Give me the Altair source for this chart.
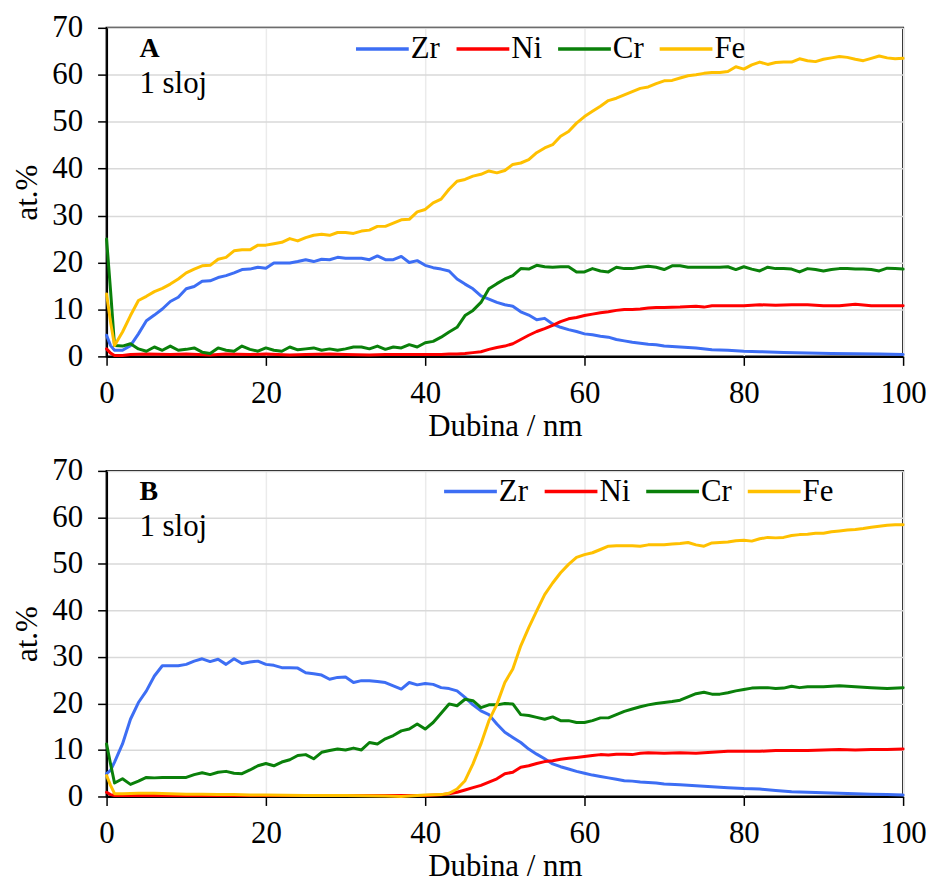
import altair as alt
import pandas as pd

FONT = "Liberation Serif, Times New Roman, Times, serif"
ELEMENTS = ["Zr", "Ni", "Cr", "Fe"]
COLORS = ["#3D6EF4", "#FF0000", "#0A800A", "#FFC000"]

# ---------------- Panel A ----------------
a_x_dense = [0, 0.5] + list(range(1, 101))

a_fe = [13.3, 7.3, 2.3, 5.2, 8.7, 11.9, 12.8, 13.8, 14.5, 15.4, 16.5, 17.8, 18.6, 19.3, 19.4,
        20.7, 21.1, 22.5, 22.7, 22.7, 23.7, 23.7, 24.0, 24.3, 25.1, 24.6, 25.3, 25.8, 26.0,
        25.8, 26.4, 26.4, 26.2, 26.7, 26.9, 27.7, 27.7, 28.4, 29.1, 29.2, 30.8, 31.3, 32.7,
        33.5, 35.6, 37.3, 37.7, 38.4, 38.8, 39.5, 39.1, 39.6, 40.9, 41.2, 41.9, 43.4, 44.4,
        45.1, 46.9, 47.9, 49.7, 51.1, 52.2, 53.3, 54.5, 55.0, 55.7, 56.4, 57.1, 57.4, 58.1,
        58.7, 58.8, 59.3, 59.8, 60.0, 60.3, 60.5, 60.5, 60.7, 61.7, 61.2, 62.1, 62.7, 62.2,
        62.6, 62.7, 62.7, 63.4, 63.0, 62.8, 63.3, 63.6, 63.9, 63.7, 63.3, 63.0, 63.5, 64.0,
        63.6, 63.4, 63.5]

a_cr = [25.0, 14.0, 2.3, 2.2, 2.7, 1.6, 1.1, 2.0, 1.3, 2.2, 1.3, 1.5, 1.8, 0.9, 0.6, 1.8,
        1.3, 1.1, 2.2, 1.5, 1.1, 1.8, 1.3, 1.1, 2.0, 1.4, 1.6, 1.8, 1.3, 1.6, 1.3, 1.6, 2.0,
        2.0, 1.6, 2.2, 1.5, 2.0, 1.8, 2.5, 2.0, 2.9, 3.2, 4.1, 5.2, 6.2, 8.7, 9.8, 11.5, 14.4,
        15.5, 16.5, 17.2, 18.7, 18.6, 19.4, 19.1, 19.0, 19.1, 19.1, 18.0, 18.0, 18.7, 18.2,
        18.0, 19.0, 18.7, 18.7, 19.0, 19.2, 19.0, 18.5, 19.3, 19.3, 19.0, 19.0, 19.0, 19.0,
        19.0, 19.1, 18.5, 19.1, 18.6, 18.2, 19.0, 18.7, 18.7, 18.6, 18.0, 18.7, 18.5, 18.2,
        18.5, 18.7, 18.7, 18.6, 18.6, 18.5, 18.2, 18.8, 18.7, 18.6]

a_zr_x = [0, 0.5] + list(range(1, 71)) + [72, 74, 76, 78, 80, 82, 85, 88, 91, 94, 97, 100]
a_zr = [4.5, 2.3, 1.3, 1.3, 2.3, 4.8, 7.6, 8.8, 10.1, 11.7, 12.6, 14.4, 14.9, 16.0, 16.1,
        16.8, 17.2, 17.8, 18.5, 18.6, 19.0, 18.8, 19.9, 19.9, 19.9, 20.2, 20.6, 20.2, 20.7,
        20.6, 21.1, 20.9, 20.9, 20.9, 20.6, 21.4, 20.6, 20.6, 21.3, 20.0, 20.4, 19.4, 18.9,
        18.6, 18.2, 16.5, 15.4, 14.4, 12.9, 12.2, 11.5, 11.0, 10.7, 9.5, 8.8, 7.8, 8.1, 6.9,
        6.2, 5.7, 5.3, 4.8, 4.6, 4.3, 4.1, 3.6, 3.3, 3.0, 2.8, 2.6, 2.5, 2.2,
        2.0, 1.8, 1.4, 1.3, 1.1, 1.0, 0.85, 0.7, 0.64, 0.57, 0.5, 0.4]

a_ni_x = [0, 0.5, 1, 2, 3, 5, 8, 10, 13, 15, 18, 20, 23, 25, 28, 30, 33, 35, 38, 40] + \
    list(range(41, 71)) + [72, 74, 75, 76, 78, 80, 82, 84, 86, 88, 90, 92, 94, 96, 98, 100]
a_ni = [1.6, 0.7, 0.2, 0.2, 0.4, 0.5, 0.4, 0.5, 0.3, 0.5, 0.4, 0.5, 0.3, 0.4, 0.5, 0.4, 0.3,
        0.4, 0.4, 0.4, 0.4, 0.4, 0.5, 0.5, 0.6, 0.8, 1.0, 1.5, 1.9, 2.2, 2.7, 3.6, 4.5, 5.3,
        5.9, 6.6, 7.4, 8.0, 8.3, 8.7, 9.0, 9.3, 9.5, 9.8, 10.0, 10.0, 10.1, 10.3, 10.4, 10.4,
        10.5, 10.7, 10.5, 10.8, 10.8, 10.8, 11.0, 10.9, 11.0, 11.0, 10.8, 10.8, 11.1, 10.8,
        10.8, 10.8]

# ---------------- Panel B ----------------
b_zr_x = [0, 0.5] + list(range(1, 71)) + list(range(72, 101, 2))
b_zr = [4.9, 5.6, 7.4, 11.3, 16.6, 20.2, 22.7, 25.9, 28.1, 28.1, 28.1, 28.4, 29.1, 29.6,
        29.0, 29.5, 28.4, 29.6, 28.6, 28.9, 29.1, 28.4, 28.2, 27.7, 27.7, 27.6, 26.6, 26.4,
        26.1, 25.2, 25.6, 25.7, 24.5, 24.9, 24.9, 24.7, 24.5, 23.8, 23.1, 24.5, 24.0, 24.3,
        24.1, 23.4, 23.2, 22.7, 21.3, 19.7, 18.4, 17.6, 15.6, 13.8, 12.7, 11.6, 10.2, 9.1,
        8.1, 7.0, 6.4, 5.9, 5.4, 5.0, 4.6, 4.3, 4.0, 3.7, 3.4, 3.3, 3.1, 3.0, 2.9, 2.7,
        2.5, 2.3, 2.1, 1.9, 1.7, 1.6, 1.3, 1.0, 0.9, 0.8, 0.7, 0.6, 0.5, 0.4, 0.3]

b_cr_x = [0, 0.5] + list(range(1, 89)) + [90, 92, 94, 96, 98, 100]
b_cr = [11.3, 7.0, 2.9, 3.8, 2.6, 3.3, 4.1, 4.0, 4.1, 4.1, 4.1, 4.1, 4.7, 5.1, 4.7, 5.2,
        5.4, 5.0, 4.9, 5.7, 6.6, 7.1, 6.6, 7.4, 7.9, 8.8, 9.0, 8.1, 9.5, 9.9, 10.2, 10.0,
        10.4, 10.0, 11.6, 11.3, 12.4, 13.1, 14.1, 14.5, 15.6, 14.5, 15.9, 17.9, 19.9, 19.5,
        20.9, 20.6, 19.1, 19.7, 19.7, 20.0, 19.9, 17.6, 17.4, 17.0, 16.6, 17.1, 16.3, 16.3,
        15.9, 15.9, 16.3, 16.9, 16.9, 17.6, 18.3, 18.8, 19.3, 19.7, 20.0, 20.2, 20.4, 20.7,
        21.4, 22.1, 22.4, 22.0, 22.0, 22.3, 22.7, 23.0, 23.3, 23.4, 23.4, 23.2, 23.3, 23.7,
        23.4, 23.6, 23.6, 23.8, 23.6, 23.4, 23.2, 23.4]

b_ni_x = [0, 0.5, 1, 5, 10, 15, 20, 25, 30, 35, 40, 42] + list(range(43, 69)) + \
    list(range(70, 101, 2))
b_ni = [0.9, 0.4, 0.2, 0.2, 0.2, 0.2, 0.2, 0.2, 0.2, 0.2, 0.2, 0.35, 0.6, 0.9, 1.4, 1.9,
        2.4, 3.1, 3.8, 4.9, 5.2, 6.3, 6.6, 7.1, 7.5, 7.7, 8.0, 8.2, 8.4, 8.6, 8.8, 9.0, 8.9,
        9.1, 9.1, 9.0, 9.3, 9.4, 9.3, 9.4, 9.3, 9.5, 9.7, 9.7, 9.7, 9.9, 9.9, 9.9, 10.0,
        10.1, 10.0, 10.1, 10.1, 10.2]

b_fe_x = [0, 0.5, 1, 2, 4, 6, 8, 10, 12, 14, 16, 18, 20, 25, 30, 35, 37, 40, 42] + \
    list(range(43, 101))
b_fe = [4.5, 2.4, 0.6, 0.6, 0.7, 0.7, 0.6, 0.5, 0.5, 0.4, 0.4, 0.3, 0.3, 0.2, 0.2, 0.1,
        0.0, 0.3, 0.4, 0.7, 1.6, 3.4, 7.0, 11.3, 16.3, 19.8, 24.5, 27.4, 32.4, 36.3, 39.9,
        43.4, 45.9, 48.1, 49.9, 51.4, 52.0, 52.4, 53.1, 53.8, 53.9, 53.9, 53.9, 53.8, 54.1,
        54.1, 54.1, 54.3, 54.4, 54.6, 54.1, 53.8, 54.5, 54.6, 54.7, 55.0, 55.1, 54.9, 55.4,
        55.7, 55.6, 55.7, 56.1, 56.3, 56.4, 56.6, 56.6, 56.9, 57.1, 57.3, 57.4, 57.6, 57.9,
        58.1, 58.3, 58.4, 58.4]


def frame(series):
    rows = []
    for name, xs, ys in series:
        for i, (x, y) in enumerate(zip(xs, ys)):
            rows.append({"depth": x, "value": y, "el": name, "order": i})
    return pd.DataFrame(rows)


df_a = frame([("Zr", a_zr_x, a_zr), ("Ni", a_ni_x, a_ni),
              ("Cr", a_x_dense, a_cr), ("Fe", a_x_dense, a_fe)])
df_b = frame([("Zr", b_zr_x, b_zr), ("Ni", b_ni_x, b_ni),
              ("Cr", b_cr_x, b_cr), ("Fe", b_fe_x, b_fe)])

FS = 31


def panel(df, letter, h, legend_x, legend_y):
    base = alt.Chart(df).mark_line(strokeWidth=3, strokeCap="round", strokeJoin="round").encode(
        x=alt.X("depth:Q", scale=alt.Scale(domain=[0, 100], nice=False),
                axis=alt.Axis(title="Dubina / nm", values=[0, 20, 40, 60, 80, 100],
                              labelFont=FONT, titleFont=FONT, labelFontSize=FS,
                              titleFontSize=FS, labelPadding=13, titlePadding=3,
                              labelFlush=False, labelOverlap=False,
                              gridColor="#EBEBEB", gridWidth=1.5)),
        y=alt.Y("value:Q", scale=alt.Scale(domain=[0, 70], nice=False),
                axis=alt.Axis(title="at.%", values=list(range(0, 71, 10)),
                              labelFont=FONT, titleFont=FONT, labelFontSize=FS,
                              titleFontSize=FS, labelPadding=15, titlePadding=8,
                              labelFlush=False, labelOverlap=False,
                              gridColor="#D9D9D9", gridWidth=1.5)),
        color=alt.Color("el:N", scale=alt.Scale(domain=ELEMENTS, range=COLORS),
                        legend=alt.Legend(orient="none", legendX=legend_x, legendY=legend_y,
                                          direction="horizontal", title=None,
                                          symbolType="stroke", symbolSize=2809,
                                          symbolStrokeWidth=3.5,
                                          labelFont=FONT, labelFontSize=FS,
                                          labelColor="black", labelOffset=0,
                                          columnPadding=9, padding=0)),
        detail="el:N",
        order="order:Q",
    )
    t1 = alt.Chart(pd.DataFrame({"t": [letter]})).mark_text(
        align="left", baseline="alphabetic", font=FONT, fontSize=28, fontWeight="bold",
        color="black").encode(text="t:N", x=alt.value(33), y=alt.value(29.5))
    t2 = alt.Chart(pd.DataFrame({"t": ["1 sloj"]})).mark_text(
        align="left", baseline="alphabetic", font=FONT, fontSize=FS,
        color="black").encode(text="t:N", x=alt.value(33), y=alt.value(65.5))
    return alt.layer(base, t1, t2).properties(width=800, height=h)


chart = alt.vconcat(
    panel(df_a, "A", 330, 248.5, -7.5),
    panel(df_b, "B", 327, 337, -8),
    spacing=12,
).resolve_scale(color="independent").resolve_legend(color="independent").properties(
    padding={"top": 1, "left": 3, "right": 0, "bottom": 0}
).configure(
    font=FONT
).configure_view(
    stroke="black", strokeWidth=2
).configure_axis(
    labelColor="black", titleColor="black", titleFontWeight="normal",
    domainColor="black", domainWidth=2, tickColor="black", tickWidth=1.5, tickSize=9,
)

chart.save("out.html", embed_options={"renderer": "svg", "actions": False})
